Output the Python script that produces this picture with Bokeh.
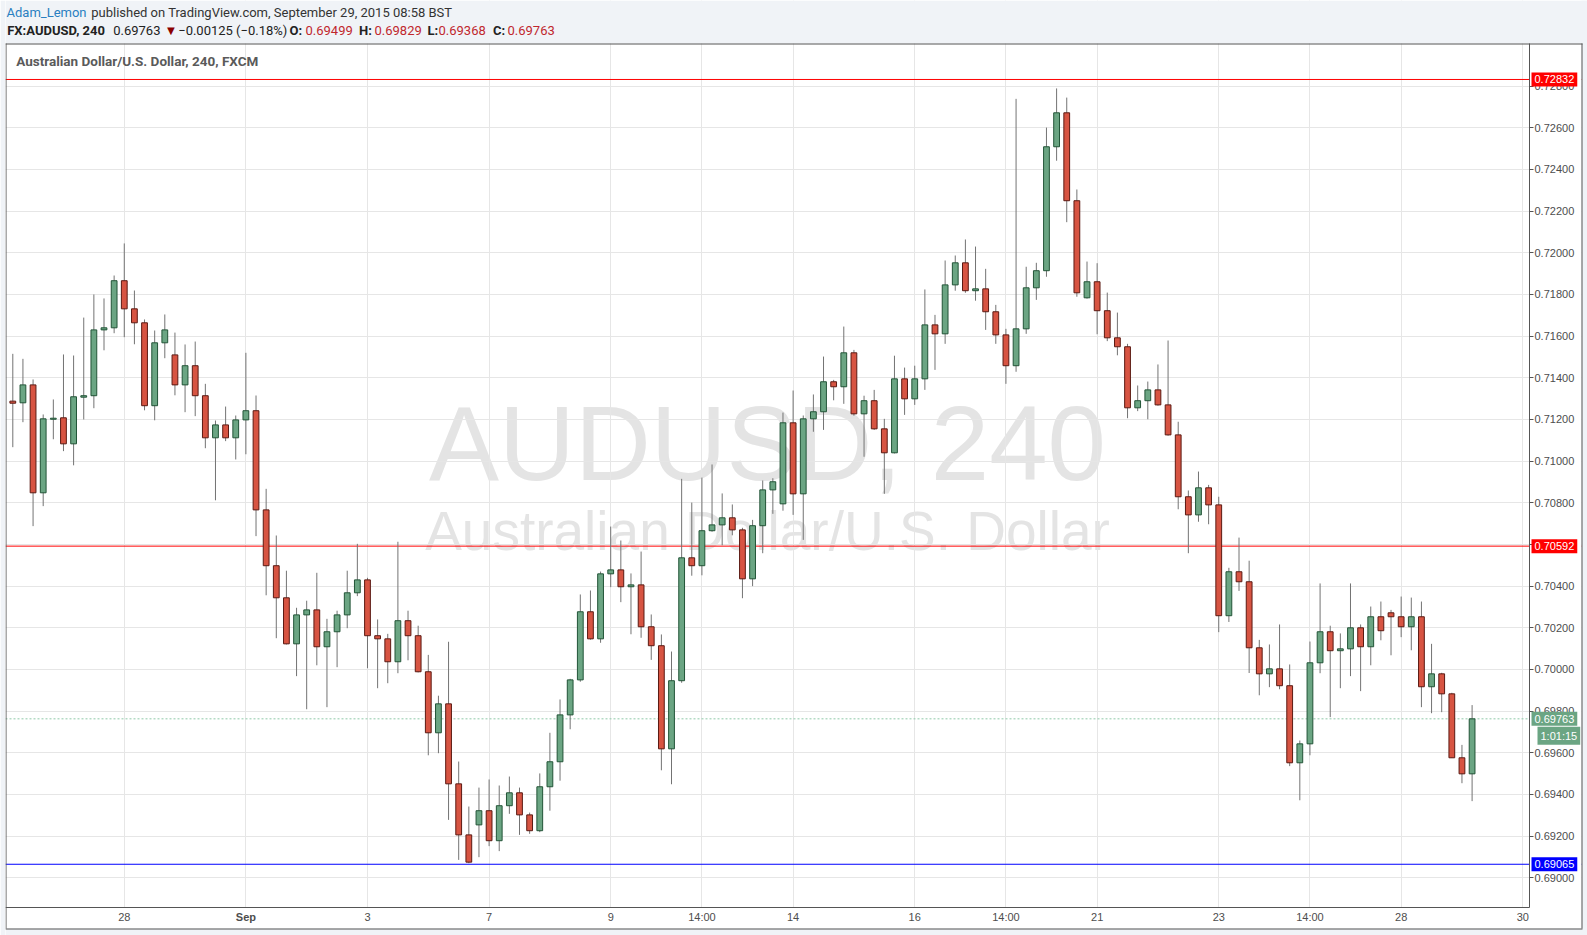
from bokeh.plotting import figure
from bokeh.models import (Range1d, Span, Label, FixedTicker, NumeralTickFormatter,
                          ColumnDataSource, BoxAnnotation)
from bokeh.embed import file_html
from bokeh.resources import INLINE

# ---------------- data (FX:AUDUSD, 4h candles) ----------------
opens = [0.71288, 0.71280, 0.71366, 0.70848, 0.71201, 0.71208, 0.71083, 0.71307, 0.71314, 0.71630,
         0.71640, 0.71866, 0.71731, 0.71664, 0.71266, 0.71568, 0.71510, 0.71366, 0.71458, 0.71314,
         0.71112, 0.71174, 0.71112, 0.71198, 0.71242, 0.70766, 0.70498, 0.70344, 0.70123, 0.70262,
         0.70286, 0.70109, 0.70181, 0.70262, 0.70368, 0.70430, 0.70162, 0.70147, 0.70037, 0.70234,
         0.70162, 0.69989, 0.69696, 0.69835, 0.69451, 0.69206, 0.69254, 0.69322, 0.69178, 0.69346,
         0.69408, 0.69302, 0.69226, 0.69437, 0.69557, 0.69782, 0.69950, 0.70277, 0.70147, 0.70459,
         0.70478, 0.70397, 0.70406, 0.70205, 0.70114, 0.69619, 0.69946, 0.70536, 0.70498, 0.70666,
         0.70694, 0.70728, 0.70670, 0.70435, 0.70690, 0.70862, 0.70795, 0.71184, 0.70843, 0.71203,
         0.71237, 0.71381, 0.71357, 0.71520, 0.71227, 0.71290, 0.71155, 0.71040, 0.71395, 0.71299,
         0.71395, 0.71654, 0.71611, 0.71846, 0.71952, 0.71818, 0.71827, 0.71717, 0.71606, 0.71458,
         0.71635, 0.71832, 0.71914, 0.72509, 0.72672, 0.72250, 0.71784, 0.71861, 0.71722, 0.71592,
         0.71549, 0.71256, 0.71290, 0.71342, 0.71270, 0.71126, 0.70829, 0.70742, 0.70872, 0.70790,
         0.70258, 0.70469, 0.70421, 0.70104, 0.69979, 0.70003, 0.69922, 0.69552, 0.69643, 0.70032,
         0.70181, 0.70090, 0.70099, 0.70200, 0.70109, 0.70253, 0.70272, 0.70253, 0.70205, 0.70253,
         0.69917, 0.69979, 0.69883, 0.69576, 0.69499]
highs = [0.71515, 0.71491, 0.71392, 0.71224, 0.71296, 0.71512, 0.71507, 0.71689, 0.71800, 0.71781,
         0.71891, 0.72045, 0.71819, 0.71680, 0.71627, 0.71704, 0.71617, 0.71560, 0.71574, 0.71371,
         0.71195, 0.71262, 0.71219, 0.71520, 0.71315, 0.70867, 0.70643, 0.70474, 0.70296, 0.70330,
         0.70464, 0.70243, 0.70282, 0.70474, 0.70603, 0.70440, 0.70240, 0.70171, 0.70613, 0.70282,
         0.70210, 0.70070, 0.69874, 0.70133, 0.69558, 0.69342, 0.69433, 0.69472, 0.69443, 0.69486,
         0.69433, 0.69313, 0.69501, 0.69696, 0.69856, 0.69955, 0.70360, 0.70379, 0.70470, 0.70686,
         0.70619, 0.70461, 0.70566, 0.70264, 0.70168, 0.70086, 0.70915, 0.70801, 0.70921, 0.70984,
         0.70845, 0.70792, 0.70680, 0.70718, 0.70907, 0.70918, 0.71233, 0.71339, 0.71219, 0.71320,
         0.71502, 0.71390, 0.71646, 0.71534, 0.71314, 0.71342, 0.71203, 0.71506, 0.71449, 0.71458,
         0.71824, 0.71702, 0.71963, 0.71987, 0.72064, 0.72030, 0.71923, 0.71750, 0.71635, 0.72739,
         0.71933, 0.71952, 0.72601, 0.72789, 0.72745, 0.72304, 0.71958, 0.71950, 0.71809, 0.71713,
         0.71563, 0.71363, 0.71382, 0.71464, 0.71579, 0.71189, 0.70859, 0.70950, 0.70886, 0.70829,
         0.70488, 0.70633, 0.70522, 0.70142, 0.70120, 0.70216, 0.70024, 0.69659, 0.70134, 0.70413,
         0.70210, 0.70173, 0.70413, 0.70216, 0.70302, 0.70326, 0.70286, 0.70350, 0.70345, 0.70326,
         0.70123, 0.69984, 0.69888, 0.69638, 0.69829]
lows = [0.71067, 0.71187, 0.70688, 0.70784, 0.71105, 0.71048, 0.70980, 0.71200, 0.71254, 0.71532,
        0.71614, 0.71595, 0.71561, 0.71244, 0.71196, 0.71494, 0.71316, 0.71235, 0.71216, 0.71062,
        0.70812, 0.71096, 0.71008, 0.71033, 0.70640, 0.70356, 0.70150, 0.70120, 0.69968, 0.69809,
        0.70020, 0.69819, 0.70011, 0.70198, 0.70352, 0.70006, 0.69910, 0.69934, 0.69982, 0.70044,
        0.69986, 0.69588, 0.69598, 0.69278, 0.69086, 0.69070, 0.69099, 0.69152, 0.69128, 0.69307,
        0.69206, 0.69211, 0.69219, 0.69322, 0.69466, 0.69713, 0.69941, 0.70143, 0.70128, 0.70395,
        0.70323, 0.70169, 0.70152, 0.70046, 0.69516, 0.69449, 0.69936, 0.70450, 0.70452, 0.70661,
        0.70596, 0.70644, 0.70342, 0.70400, 0.70558, 0.70747, 0.70762, 0.70742, 0.70622, 0.71141,
        0.71150, 0.71292, 0.71275, 0.71218, 0.71021, 0.71150, 0.70843, 0.71037, 0.71222, 0.71270,
        0.71342, 0.71438, 0.71563, 0.71818, 0.71808, 0.71770, 0.71630, 0.71563, 0.71371, 0.71429,
        0.71611, 0.71774, 0.71885, 0.72442, 0.72147, 0.71789, 0.71780, 0.71609, 0.71576, 0.71508,
        0.71206, 0.71240, 0.71201, 0.71266, 0.71122, 0.70769, 0.70558, 0.70709, 0.70697, 0.70179,
        0.70228, 0.70377, 0.69983, 0.69876, 0.69915, 0.69905, 0.69536, 0.69372, 0.69588, 0.69982,
        0.69771, 0.69910, 0.69968, 0.69896, 0.70020, 0.70140, 0.70068, 0.70155, 0.70092, 0.69819,
        0.69790, 0.69795, 0.69575, 0.69454, 0.69368]
closes = [0.71278, 0.71366, 0.70848, 0.71203, 0.71206, 0.71083, 0.71309, 0.71314, 0.71630, 0.71640,
          0.71866, 0.71731, 0.71664, 0.71266, 0.71568, 0.71630, 0.71366, 0.71458, 0.71314, 0.71112,
          0.71174, 0.71112, 0.71198, 0.71242, 0.70766, 0.70498, 0.70344, 0.70123, 0.70262, 0.70286,
          0.70109, 0.70181, 0.70262, 0.70368, 0.70430, 0.70162, 0.70147, 0.70037, 0.70234, 0.70162,
          0.69989, 0.69696, 0.69835, 0.69451, 0.69206, 0.69075, 0.69322, 0.69178, 0.69346, 0.69408,
          0.69302, 0.69226, 0.69437, 0.69557, 0.69782, 0.69950, 0.70277, 0.70147, 0.70459, 0.70478,
          0.70397, 0.70406, 0.70205, 0.70114, 0.69619, 0.69946, 0.70536, 0.70498, 0.70666, 0.70694,
          0.70728, 0.70670, 0.70435, 0.70690, 0.70862, 0.70901, 0.71184, 0.70843, 0.71203, 0.71237,
          0.71381, 0.71357, 0.71520, 0.71227, 0.71290, 0.71155, 0.71040, 0.71395, 0.71299, 0.71395,
          0.71654, 0.71611, 0.71846, 0.71952, 0.71818, 0.71827, 0.71717, 0.71606, 0.71458, 0.71635,
          0.71832, 0.71914, 0.72509, 0.72672, 0.72250, 0.71808, 0.71861, 0.71722, 0.71592, 0.71549,
          0.71256, 0.71290, 0.71342, 0.71270, 0.71126, 0.70829, 0.70742, 0.70872, 0.70790, 0.70258,
          0.70469, 0.70421, 0.70104, 0.69979, 0.70003, 0.69922, 0.69552, 0.69643, 0.70032, 0.70181,
          0.70090, 0.70099, 0.70200, 0.70109, 0.70253, 0.70186, 0.70253, 0.70205, 0.70253, 0.69917,
          0.69979, 0.69883, 0.69576, 0.69499, 0.69763]

tick_pos = [11, 23, 35, 47, 59, 68, 77, 89, 98, 107, 119, 128, 137, 149]
tick_labels = ["28", "Sep", "3", "7", "9", "14:00", "14", "16", "14:00", "21", "23", "14:00", "28", "30"]
month_ticks = ["Sep"]   # shown in bold
price_ticks = [0.690, 0.692, 0.694, 0.696, 0.698, 0.700, 0.702, 0.704, 0.706, 0.708,
               0.710, 0.712, 0.714, 0.716, 0.718, 0.720, 0.722, 0.724, 0.726, 0.728]

level_top = 0.72832
level_mid = 0.70592
level_low = 0.69065
last_price = 0.69763
countdown = "1:01:15"

symbol_title = "Australian Dollar/U.S. Dollar, 240, FXCM"
watermark_1 = "AUDUSD, 240"
watermark_2 = "Australian Dollar/U.S. Dollar"
header_1 = [("Adam_Lemon", 6.0, "#2a7fc1", "normal"),
            ("published on TradingView.com, September 29, 2015 08:58 BST", 90.7, "#333333", "normal")]
header_2 = [("FX:AUDUSD, 240", 6.7, "#222222", "bold"),
            ("0.69763", 112.7, "#222222", "normal"),
            ("\u25BC", 164.0, "#8b0000", "normal"),
            ("\u22120.00125 (\u22120.18%)", 177.7, "#222222", "normal"),
            ("O:", 289.0, "#222222", "bold"),
            ("0.69499", 305.0, "#c0272d", "normal"),
            ("H:", 358.5, "#222222", "bold"),
            ("0.69829", 374.0, "#c0272d", "normal"),
            ("L:", 427.0, "#222222", "bold"),
            ("0.69368", 438.0, "#c0272d", "normal"),
            ("C:", 492.5, "#222222", "bold"),
            ("0.69763", 507.0, "#c0272d", "normal")]

# ---------------- layout constants (canvas pixels) ----------------
W, H = 1587, 935
LEFT = 5
CHART_TOP = 43          # top border of the chart box
AXIS_Y = 907            # time-axis line
BOX_B = 928             # bottom border of the chart box
SCALE_X = 1529          # price-scale line
BOX_R = 1581            # right border of the chart box
PXU = 10.134            # px per candle
PYU = 20833.0           # px per price unit
X0 = -(12.3 - LEFT) / PXU
X1 = X0 + (W - LEFT) / PXU
YTOP = 0.688574 + AXIS_Y / PYU
YBOT = YTOP - H / PYU
BG = "#f0f3f7"
BORDER = "#555555"


def sx(px):
    return X0 + (px - LEFT) / PXU


def sy(py):
    return YTOP - py / PYU


Y_CHART = sy(CHART_TOP)
Y_AXIS = sy(AXIS_Y)

GREEN_F, GREEN_L = "#6ba583", "#225437"
RED_F, RED_L = "#d75442", "#5b1a13"

n = len(opens)
up = [c >= o for o, c in zip(opens, closes)]
src = ColumnDataSource(dict(
    x=list(range(n)), o=opens, h=highs, l=lows, c=closes,
    top=[max(o, c) for o, c in zip(opens, closes)],
    bottom=[min(o, c) for o, c in zip(opens, closes)],
    fill=[GREEN_F if u else RED_F for u in up],
    line=[GREEN_L if u else RED_L for u in up],
))

p = figure(width=W, height=H, x_range=Range1d(X0, X1), y_range=Range1d(YBOT, YTOP),
           y_axis_location="right", toolbar_location=None, output_backend="svg",
           min_border_left=LEFT, min_border_right=0, min_border_top=0, min_border_bottom=0,
           border_fill_color=BG, background_fill_color="white", outline_line_color=None)

# grids
p.xgrid.ticker = FixedTicker(ticks=tick_pos)
p.ygrid.ticker = FixedTicker(ticks=price_ticks)
p.grid.grid_line_color = "#e6e6e6"
p.grid.grid_line_width = 1

# time axis, placed on the time-axis line
xa = p.xaxis[0]
xa.ticker = FixedTicker(ticks=tick_pos)
xa.major_label_overrides = {t: ("" if l in month_ticks else l) for t, l in zip(tick_pos, tick_labels)}
xa.fixed_location = Y_AXIS
xa.bounds = (X0, sx(SCALE_X))
xa.major_tick_out = 0
xa.major_tick_in = 0
xa.minor_tick_out = 0
xa.minor_tick_in = 0
xa.axis_line_color = BORDER
xa.major_label_text_font = "Liberation Sans"
xa.major_label_text_font_size = "11px"
xa.major_label_text_color = "#4d4d4d"
xa.major_label_standoff = 3

# price axis, placed on the price-scale line
ya = p.yaxis[0]
ya.ticker = FixedTicker(ticks=price_ticks)
ya.formatter = NumeralTickFormatter(format="0.00000")
ya.fixed_location = sx(SCALE_X)
ya.bounds = (Y_AXIS, Y_CHART)
ya.major_tick_out = 4
ya.major_tick_in = 0
ya.major_tick_line_color = BORDER
ya.minor_tick_out = 0
ya.minor_tick_in = 0
ya.axis_line_color = BORDER
ya.major_label_text_font = "Liberation Sans"
ya.major_label_text_font_size = "11px"
ya.major_label_text_color = "#4d4d4d"
ya.major_label_standoff = 1

# watermark
p.add_layout(Label(x=(X0 + sx(SCALE_X)) / 2, y=sy(443), text=watermark_1, text_align="center",
                   text_baseline="middle", text_font="Liberation Sans", text_font_size="105px",
                   text_color="#e4e4e4", level="image"))
p.add_layout(Label(x=(X0 + sx(SCALE_X)) / 2, y=sy(530.5), text=watermark_2, text_align="center",
                   text_baseline="middle", text_font="Liberation Sans", text_font_size="55px",
                   text_color="#e4e4e4", level="image"))

# horizontal levels (under the price-scale cover)
for loc, col, dash in [(level_top, "#ff0000", "solid"), (level_mid, "#ff0000", "solid"),
                       (level_low, "#0000ff", "solid"), (last_price, "#8fc9a9", "2 2")]:
    p.add_layout(Span(location=loc, dimension="width", line_color=col, line_width=1,
                      line_dash=dash, level="underlay"))

# price-scale area, time-axis area, header band and outer strips
p.add_layout(BoxAnnotation(left=sx(SCALE_X), right=sx(BOX_R), top=Y_CHART, bottom=sy(BOX_B),
                           fill_color="white", fill_alpha=1, line_color=None, level="underlay"))
p.add_layout(BoxAnnotation(right=sx(BOX_R), top=Y_AXIS, bottom=sy(BOX_B),
                           fill_color="white", fill_alpha=1, line_color=None, level="underlay"))
p.add_layout(BoxAnnotation(left=sx(BOX_R), fill_color=BG, fill_alpha=1, line_color=None,
                           level="underlay"))
p.add_layout(BoxAnnotation(top=sy(BOX_B), fill_color=BG, fill_alpha=1, line_color=None,
                           level="underlay"))
p.add_layout(BoxAnnotation(bottom=Y_CHART, fill_color=BG, fill_alpha=1, line_color=None,
                           level="underlay"))

# chart box borders: left, top, right, bottom
p.segment(x0=[sx(LEFT + 0.5), sx(LEFT), sx(BOX_R + 0.5), sx(LEFT)],
          y0=[sy(BOX_B), sy(CHART_TOP + 0.5), sy(BOX_B), sy(BOX_B + 0.5)],
          x1=[sx(LEFT + 0.5), sx(BOX_R + 1), sx(BOX_R + 0.5), sx(BOX_R + 1)],
          y1=[sy(CHART_TOP), sy(CHART_TOP + 0.5), sy(CHART_TOP), sy(BOX_B + 0.5)],
          line_color=BORDER, line_width=1)

# candles
p.segment(x0="x", y0="l", x1="x", y1="h", source=src, line_color="#737373", line_width=1)
p.vbar(x="x", width=0.57, top="top", bottom="bottom", fill_color="fill", line_color="line",
       line_width=1, source=src)

# bold month label on the time axis
for t, l in zip(tick_pos, tick_labels):
    if l in month_ticks:
        p.add_layout(Label(x=t, y=sy(916.5), text=l, text_align="center", text_baseline="middle",
                           text_font="Liberation Sans", text_font_size="11px",
                           text_font_style="bold", text_color="#4d4d4d"))


# price boxes on the scale
def price_box(y, text, color, px):
    p.add_layout(Label(x=sx(px), y=y, text=text, text_align="left", text_baseline="middle",
                       text_font="Liberation Sans", text_font_size="11px", text_color="white",
                       background_fill_color=color, padding=3))


price_box(level_top, f"{level_top:.5f}", "#ff0000", SCALE_X + 2)
price_box(level_mid, f"{level_mid:.5f}", "#ff0000", SCALE_X + 2)
price_box(level_low, f"{level_low:.5f}", "#0000ff", SCALE_X + 2)
price_box(last_price, f"{last_price:.5f}", "#6ba583", SCALE_X + 2)
price_box(last_price - 17 / PYU, countdown, "#6ba583", SCALE_X + 8)


# header texts
def text_at(px, py, txt, size, style, col, font="Roboto"):
    p.add_layout(Label(x=sx(px), y=sy(py), text=txt, text_align="left", text_baseline="middle",
                       text_font=font, text_font_size=size, text_font_style=style, text_color=col))


text_at(15.7, 60.5, symbol_title, "13.5px", "bold", "#5a5a5a")
for txt, px, col, style in header_1:
    text_at(px, 12.0, txt, "13px", style, col)
for txt, px, col, style in header_2:
    text_at(px, 29.8, txt, "13px", style, col)

open("out.html", "w").write(file_html(p, INLINE))
